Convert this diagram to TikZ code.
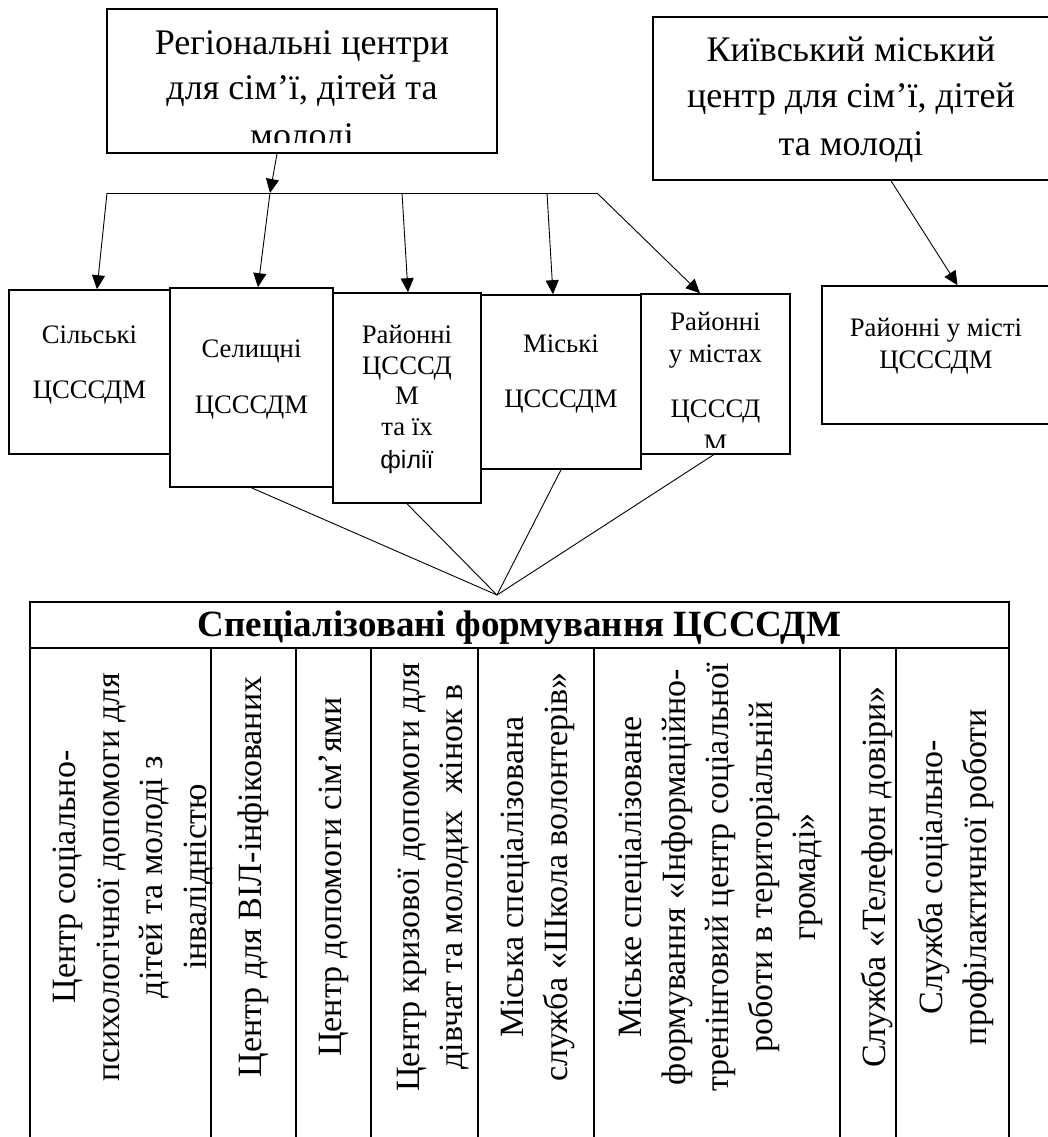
\documentclass[tikz,border=0pt]{standalone}
\usepackage{fontspec}
\setmainfont{Liberation Serif}
\newfontfamily\sansf{Liberation Sans}
\usetikzlibrary{arrows.meta}
\begin{document}
\begin{tikzpicture}[x=1pt,y=-1pt,
  bx/.style 2 args={draw,line width=1.6pt,inner sep=0pt,minimum width=#1pt,minimum height=#2pt},
  bt/.style={font=\fontsize{36}{46}\selectfont,inner sep=0pt,anchor=base},
  st/.style={font=\fontsize{26.7}{31}\selectfont,inner sep=0pt,anchor=base},
  vt/.style={font=\fontsize{34}{43.5}\selectfont,rotate=90,align=center,inner sep=0pt},
  con/.style={line width=0.9pt},
  arr/.style={con,-{Triangle[length=14pt,width=13pt]}},
  tb/.style={line width=1.6pt}]
\clip (0,0) rectangle (1048,1137);
% boxes
\node[bx={390}{144}] (top) at (302,81) {};
\node[bx={398}{163}] (kyiv) at (852,98.5) {};
\node[bx={229}{138}] (rms) at (936.5,355) {};
\node[bx={161}{164}] (sil) at (89.5,372) {};
\node[bx={163}{199}] (sel) at (251.5,387.5) {};
\node[bx={148}{210}] (ray) at (407,398) {};
\node[bx={160}{174}] (mis) at (561,382) {};
\node[bx={149}{160}] (rum) at (715.5,374) {};
% texts of the boxes
\begin{scope}
\clip (107,9) rectangle (497,142);
\foreach \yy/\tx [count=\i] in {55/Регіональні центри, 100/{для сім’ї, дітей та}, 147/молоді}
  \node[bt] (top-\i) at (302,\yy) {\tx};
\end{scope}
\foreach \yy/\tx [count=\i] in {62/Київський міський, 108/{центр для сім’ї, дітей}, 155/та молоді}
  \node[bt] (kyiv-\i) at (851,\yy) {\tx};
\foreach \yy/\tx [count=\i] in {343/Сільські, 398/ЦСССДМ}
  \node[st] (sil-\i) at (89.5,\yy) {\tx};
\foreach \yy/\tx [count=\i] in {357/Селищні, 413/ЦСССДМ}
  \node[st] (sel-\i) at (251.5,\yy) {\tx};
\foreach \yy/\tx [count=\i] in {343/Районні, 374/ЦСССД, 404/М, 435/та їх}
  \node[st] (ray-\i) at (407,\yy) {\tx};
\node[st,font=\sansf\fontsize{25}{30}\selectfont] (ray-5) at (407,468) {філії};
\foreach \yy/\tx [count=\i] in {352/Міські, 407/ЦСССДМ}
  \node[st] (mis-\i) at (561,\yy) {\tx};
\begin{scope}
\clip (641,294) rectangle (790,447);
\foreach \yy/\tx [count=\i] in {330/Районні, 362/у містах, 417/ЦСССД, 452/М}
  \node[st] (rum-\i) at (715.5,\yy) {\tx};
\end{scope}
\foreach \yy/\tx [count=\i] in {336/Районні у місті, 368/ЦСССДМ}
  \node[st] (rms-\i) at (936,\yy) {\tx};
% connectors
\coordinate (b1) at (107,193);
\coordinate (b2) at (270,193);
\coordinate (b3) at (402,193);
\coordinate (b4) at (547,193);
\coordinate (b5) at (597,193);
\draw[con] (b1) -- (b5);
\draw[arr] ([xshift=-25pt]top.south) -- (b2);
\draw[arr] (b1) -- ([xshift=7.5pt]sil.north);
\draw[arr] (b2) -- ([xshift=6.5pt]sel.north);
\draw[arr] (b3) -- ([xshift=1pt]ray.north);
\draw[arr] (b4) -- ([xshift=-8pt]mis.north);
\draw[arr] (b5) -- ([xshift=-15.5pt]rum.north);
\draw[arr] ([xshift=39pt]kyiv.south) -- ([xshift=21pt]rms.north);
\coordinate (conv) at (497,595);
\draw[con] (sel.south) -- (conv);
\draw[con] (ray.south) -- (conv);
\draw[con] (mis.south) -- (conv);
\draw[con] ([xshift=-2pt]rum.south) -- (conv);
% table
\draw[tb] (30,602) rectangle (1009,1160);
\draw[tb] (30,648) -- (1009,648);
\foreach \x in {211,296,371,478,594,840,896}
  \draw[tb] (\x,648) -- (\x,1160);
\node[font=\bfseries\fontsize{37}{42}\selectfont,inner sep=0pt,anchor=base] (hdr) at (519.5,636) {Спеціалізовані формування ЦСССДМ};
\node[vt] (c1) at (133,877) {Центр соціально-\\психологічної допомоги для\\дітей та молоді з\\інвалідністю};
\node[vt] (c2) at (253,877) {Центр для ВІЛ-інфікованих};
\node[vt] (c3) at (334,877) {Центр допомоги сім’ями};
\node[vt] (c4) at (433,877) {Центр кризової допомоги для\\дівчат та молодих~ жінок в};
\node[vt] (c5) at (538,877) {Міська спеціалізована\\служба «Школа волонтерів»};
\node[vt] (c6) at (721,877) {Міське спеціалізоване\\формування «Інформаційно-\\тренінговий центр соціальної\\роботи в територіальній\\громаді»};
\node[vt] (c7) at (877,877) {Служба «Телефон довіри»};
\node[vt] (c8) at (956,877) {Служба соціально-\\профілактичної роботи};
\end{tikzpicture}
\end{document}
